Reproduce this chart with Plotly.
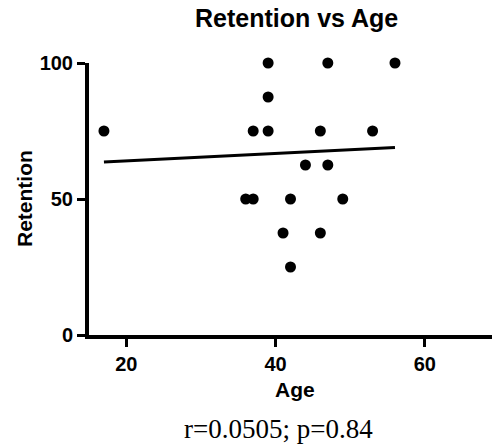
import plotly.graph_objects as go

# Data
age = [39, 47, 56, 39, 17, 37, 39, 46, 53, 44, 47, 36, 37, 42, 49, 41, 46, 42]
retention = [100, 100, 100, 87.5, 75, 75, 75, 75, 75, 62.5, 62.5, 50, 50, 50, 50, 37.5, 37.5, 25]
fit_age = [17, 56]              # linear fit line ends
fit_retention = [63.6, 68.9]
x_ticks = [20, 40, 60]
y_ticks = [0, 50, 100]
title_text = "Retention vs Age"
x_title = "Age"
y_title = "Retention"
stats_text = "r=0.0505; p=0.84"

W, H = 492, 444
ML, MR, MT, MB = 89, 0, 63, 109
plot_w = W - ML - MR
plot_h = H - MT - MB

SANS = "Liberation Sans, Arial, sans-serif"
SERIF = "Liberation Serif, Times New Roman, serif"

fig = go.Figure()
fig.add_trace(go.Scatter(x=fit_age, y=fit_retention, mode="lines",
                         line=dict(color="black", width=3), cliponaxis=False,
                         showlegend=False, hoverinfo="skip"))
fig.add_trace(go.Scatter(x=age, y=retention, mode="markers",
                         marker=dict(color="black", size=11, line=dict(width=0)),
                         cliponaxis=False, showlegend=False))

def px(p):
    return (p - ML) / plot_w

def py(p):
    return (H - MB - p) / plot_h

axis_common = dict(showgrid=False, zeroline=False,
                   showline=True, linecolor="black", linewidth=4,
                   ticks="outside", ticklen=8, tickwidth=3, tickcolor="black",
                   tickfont=dict(family=SANS, size=20, color="black", weight="bold"))

fig.update_layout(
    width=W, height=H,
    margin=dict(l=ML, r=MR, t=MT, b=MB, pad=0),
    plot_bgcolor="white", paper_bgcolor="white",
    showlegend=False,
    xaxis=dict(range=[15, 69], tickvals=x_ticks, **axis_common),
    yaxis=dict(range=[0, 100], tickvals=y_ticks, **axis_common),
    annotations=[
        dict(text="<b>" + title_text + "</b>", xref="paper", yref="paper",
             x=px(296), y=py(18), xanchor="center", yanchor="middle",
             showarrow=False, font=dict(family=SANS, size=25, color="black")),
        dict(text="<b>" + x_title + "</b>", xref="paper", yref="paper",
             x=px(294.5), y=py(389), xanchor="center", yanchor="middle",
             showarrow=False, font=dict(family=SANS, size=21, color="black")),
        dict(text="<b>" + y_title + "</b>", xref="paper", yref="paper",
             x=px(24), y=py(199), xanchor="center", yanchor="middle",
             textangle=-90, showarrow=False, font=dict(family=SANS, size=21, color="black")),
        dict(text=stats_text, xref="paper", yref="paper",
             x=px(278), y=py(429), xanchor="center", yanchor="middle",
             showarrow=False, font=dict(family=SERIF, size=27, color="black")),
    ],
)

fig.write_html("out.html", config={"displayModeBar": False},
               post_script="document.body.style.margin='0';")
